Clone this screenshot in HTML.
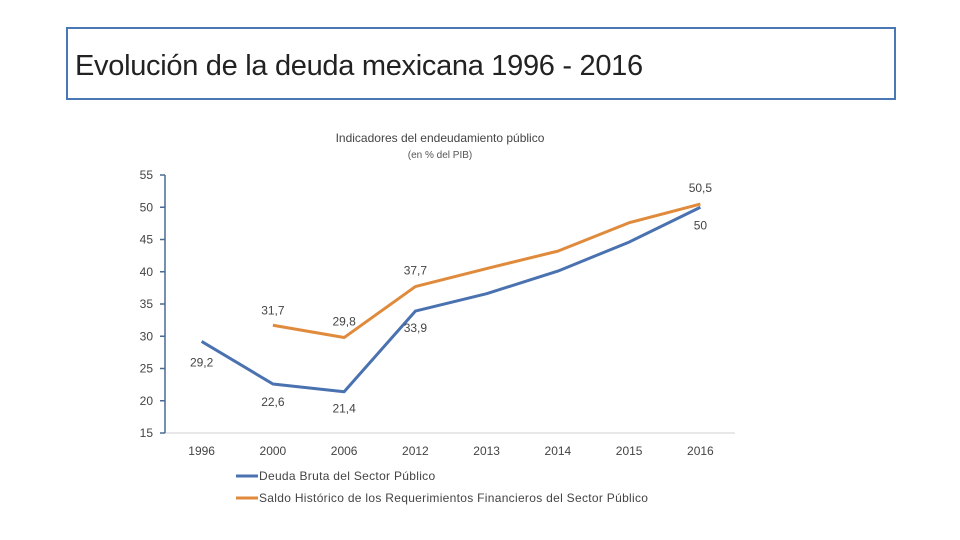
<!DOCTYPE html>
<html><head><meta charset="utf-8"><style>
body{margin:0;background:#fff;width:960px;height:540px;overflow:hidden;font-family:"Liberation Sans",sans-serif}
#title{position:absolute;left:66px;top:27px;width:830px;height:73px;border:2px solid #4a78b4;box-sizing:border-box}
#title span{position:absolute;left:7px;top:21px;font-size:29px;color:#222;letter-spacing:-0.3px}
svg{position:absolute;left:0;top:0}
</style></head><body>
<div id="title"><span>Evolución de la deuda mexicana 1996 - 2016</span></div>
<svg id="chart" width="960" height="540"></svg>
<script>
const categories=["1996","2000","2006","2012","2013","2014","2015","2016"];
const deudaBruta=[29.2,22.6,21.4,33.9,36.6,40.1,44.6,50];
const saldoHistorico=[null,31.7,29.8,37.7,40.5,43.2,47.6,50.5];
const yTicks=[15,20,25,30,35,40,45,50,55];
const blueLabels={0:"29,2",1:"22,6",2:"21,4",3:"33,9",7:"50"};
const orangeLabels={1:"31,7",2:"29,8",3:"37,7",7:"50,5"};
const NS="http://www.w3.org/2000/svg";
const svg=document.getElementById('chart');
const x0=165,x1=735,yTop=175,yBot=433;
const band=(x1-x0)/categories.length;
const X=i=>x0+band*(i+0.5)+1;
const Y=v=>yBot-(v-15)/40*(yBot-yTop);
function mk(t,a,txt){const e=document.createElementNS(NS,t);for(const k in a)e.setAttribute(k,a[k]);if(txt!=null)e.textContent=txt;svg.appendChild(e);return e;}
let e;
e=mk('text',{x:440,y:142,'text-anchor':'middle','font-size':12,fill:'#444'},'Indicadores del endeudamiento público');

e=mk('text',{x:440,y:158,'text-anchor':'middle','font-size':10,fill:'#555'},'(en % del PIB)');

e=mk('line',{x1:x0,y1:yBot,x2:x1,y2:yBot,stroke:'#d0d0d0','stroke-width':1});

e=mk('line',{x1:x0,y1:yTop,x2:x0,y2:yBot,stroke:'#4a6a90','stroke-width':1.5});

yTicks.forEach(v=>{
 const t=mk('line',{x1:x0-5,y1:Y(v),x2:x0,y2:Y(v),stroke:'#4a6a90','stroke-width':1.5});
 
 const l=mk('text',{x:153,y:Y(v)+4,'text-anchor':'end','font-size':12,fill:'#444'},v);
 
});
categories.forEach((c,i)=>{
 const l=mk('text',{x:X(i),y:455,'text-anchor':'middle','font-size':12,fill:'#444'},c);
 
});
function series(vals,color,name){
 let d='';vals.forEach((v,i)=>{if(v==null)return;d+=(d?'L':'M')+X(i)+','+Y(v);});
 const p=mk('path',{d:d,fill:'none',stroke:color,'stroke-width':3,'stroke-linejoin':'round'});
 
}
series(saldoHistorico,'#e08a3c','saldo-historico-line');
series(deudaBruta,'#4a72b0','deuda-bruta-line');
const bOff={0:[0,21],1:[0,18],2:[0,17],3:[0,17],7:[0,18]};
for(const i in blueLabels){const o=bOff[i];
 const l=mk('text',{x:X(+i)+o[0],y:Y(deudaBruta[i])+o[1]+4,'text-anchor':'middle','font-size':12,fill:'#444'},blueLabels[i]);
 }
const oOff={1:[0,-15],2:[0,-16],3:[0,-16],7:[0,-16]};
for(const i in orangeLabels){const o=oOff[i];
 const l=mk('text',{x:X(+i)+o[0],y:Y(saldoHistorico[i])+o[1]+4,'text-anchor':'middle','font-size':12,fill:'#444'},orangeLabels[i]);
 }
const legend=[["Deuda Bruta del Sector Público",'#4a72b0',476],["Saldo Histórico de los Requerimientos Financieros del Sector Público",'#e08a3c',498]];
legend.forEach(([t,c,y])=>{
 const ln=mk('line',{x1:236,y1:y,x2:258,y2:y,stroke:c,'stroke-width':3});
 
 const l=mk('text',{x:259,y:y+4,'font-size':12,fill:'#444','letter-spacing':'0.3'},t);
 
});
</script>
</body></html>
